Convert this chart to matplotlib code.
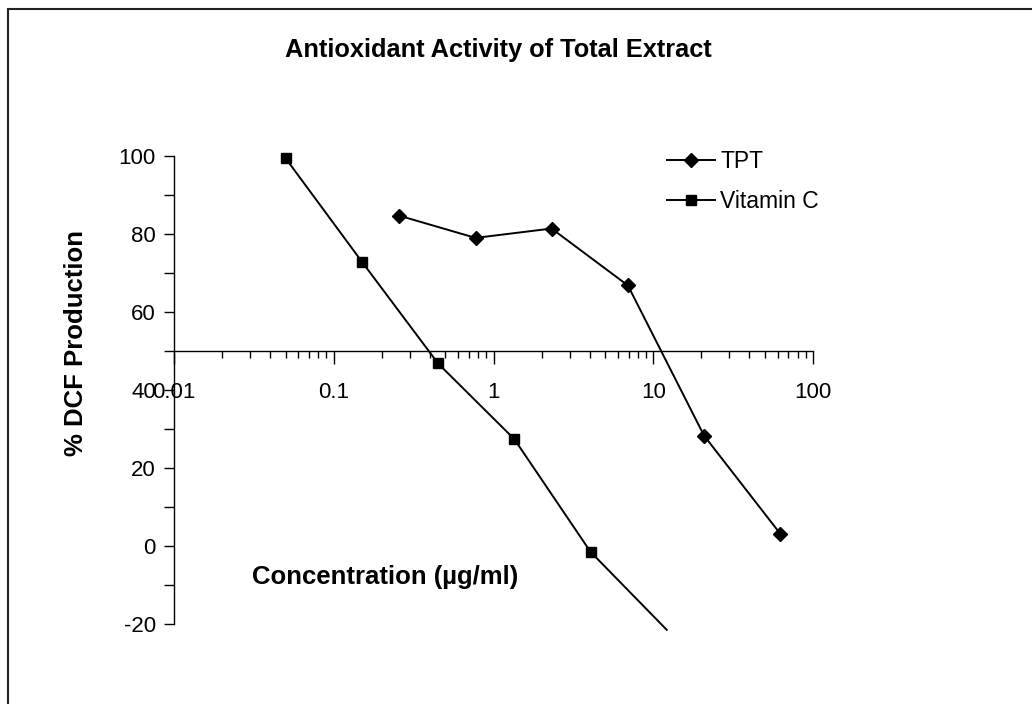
import matplotlib.pyplot as plt
from matplotlib.patches import Rectangle
from matplotlib.ticker import LogLocator, MultipleLocator, FixedFormatter, FixedLocator

# serial 1:3 dilutions
tpt_conc = [0.257, 0.772, 2.31, 6.94, 20.8, 62.5]
tpt_dcf = [84.7, 79.0, 81.4, 66.8, 28.3, 3.1]
vitc_conc = [0.05, 0.15, 0.45, 1.35, 4.05, 12.15]
vitc_dcf = [99.4, 72.9, 46.8, 27.4, -1.5, -21.5]
xtick_labels = ['0.01', '0.1', '1', '10', '100']

plt.rcParams['font.family'] = ['Liberation Sans', 'DejaVu Sans']
plt.rcParams['axes.unicode_minus'] = False

fig = plt.figure(figsize=(10.32, 7.04), dpi=100)
ax = fig.add_axes([174/1032, 1-624/704, 639/1032, 468/704])

ax.plot(tpt_conc, tpt_dcf, color='black', lw=1.4, marker='D', ms=7,
        label='TPT')
shown = [i for i, v in enumerate(vitc_dcf) if v >= -20]
ax.plot(vitc_conc, vitc_dcf, color='black', lw=1.4, marker='s', ms=7.5,
        markevery=shown, clip_on=False, label='Vitamin C')

ax.set_xscale('log')
ax.set_xlim(0.01, 100)
ax.set_ylim(-20, 100)

# Excel style: x axis crosses at 50
for s in ['top', 'right']:
    ax.spines[s].set_visible(False)
ax.spines['bottom'].set_position(('data', 50))
ax.spines['bottom'].set_linewidth(1.0)
ax.spines['left'].set_linewidth(1.0)

ax.xaxis.set_major_locator(FixedLocator([0.01, 0.1, 1, 10, 100]))
ax.xaxis.set_major_formatter(FixedFormatter(xtick_labels))
ax.xaxis.set_minor_locator(LogLocator(base=10, subs=range(2, 10)))
ax.yaxis.set_major_locator(MultipleLocator(20))
ax.yaxis.set_minor_locator(MultipleLocator(10))

ax.tick_params(axis='x', which='major', direction='out', length=9, width=1,
               labelsize=16, pad=13)
ax.tick_params(axis='x', which='minor', direction='out', length=5, width=1)
ax.tick_params(axis='y', which='both', direction='out', length=7, width=1,
               labelsize=16, pad=6)

ax.set_ylabel('% DCF Production', fontsize=18.5, fontweight='bold')
ax.yaxis.set_label_coords(-0.135, 0.6)
ax.text(385/1032, 1-577/704, 'Concentration (µg/ml)', transform=fig.transFigure,
        fontsize=18.5, fontweight='bold', ha='center', va='center')
fig.text(498/1032, 1-50/704, 'Antioxidant Activity of Total Extract',
         fontsize=18.3, fontweight='bold', ha='center', va='center')

leg = ax.legend(loc='upper left', bbox_to_anchor=(646/1032, 1-129/704),
                bbox_transform=fig.transFigure, frameon=False, fontsize=16.5,
                handlelength=2.1, handletextpad=0.25, labelspacing=0.75)

fig.patches.append(Rectangle((8/1032, -0.05), 1.1, 1.05 - 8.5/704,
                             transform=fig.transFigure, fill=False,
                             edgecolor='#222222', lw=1.5))

fig.savefig('out.png', dpi=100)
